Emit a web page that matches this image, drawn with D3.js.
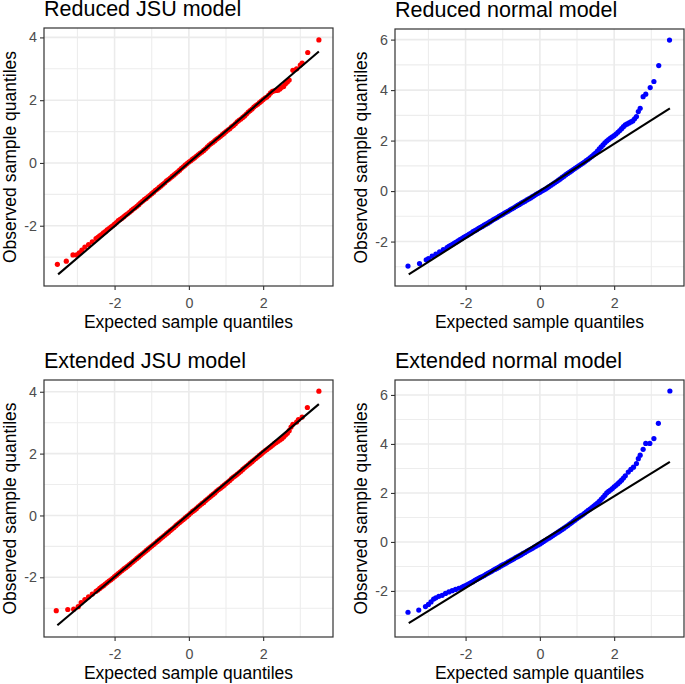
<!DOCTYPE html>
<html><head><meta charset="utf-8">
<script src="https://cdn.jsdelivr.net/npm/d3@7"></script>
<style>body{margin:0;background:#fff}svg{display:block}</style>
</head><body>
<svg id="c" width="685" height="684"></svg>
<script>
// ---------- data ----------
const panelTitles = ["Reduced JSU model","Reduced normal model","Extended JSU model","Extended normal model"];
const xTitle = "Expected sample quantiles";
const yTitle = "Observed sample quantiles";
const xTicks = [-2, 0, 2];
const xMinor = [-3, -1, 1, 3];
const yTicksJSU = [-2, 0, 2, 4];
const yMinorJSU = [-3, -1, 1, 3];
const yTicksNorm = [-2, 0, 2, 4, 6];
const yMinorNorm = [-3, -1, 1, 3, 5];

// [expected, observed]
const reducedJSU = [[-3.54,-3.23],[-3.30,-3.13],[-3.12,-2.93],[-3.02,-2.93],[-2.95,-2.86],[-2.88,-2.78],[-2.8,-2.68],[-2.7,-2.60],[-2.6,-2.51],[-2.5,-2.41],[-2.4,-2.32],[-2.3,-2.23],[-2.2,-2.13],[-2.1,-2.04],[-2.0,-1.95],[-1.9,-1.84],[-1.8,-1.76],[-1.7,-1.66],[-1.6,-1.57],[-1.5,-1.47],[-1.4,-1.38],[-1.3,-1.27],[-1.2,-1.17],[-1.1,-1.08],[-1.0,-0.98],[-0.9,-0.87],[-0.8,-0.78],[-0.7,-0.68],[-0.6,-0.57],[-0.5,-0.48],[-0.4,-0.38],[-0.3,-0.28],[-0.2,-0.17],[-0.1,-0.07],[0,0.03],[0.1,0.12],[0.2,0.21],[0.3,0.31],[0.4,0.40],[0.5,0.51],[0.6,0.62],[0.7,0.71],[0.8,0.80],[0.9,0.90],[1.0,1.00],[1.1,1.09],[1.2,1.19],[1.3,1.31],[1.4,1.40],[1.5,1.50],[1.6,1.62],[1.7,1.72],[1.8,1.83],[1.9,1.92],[2.0,2.02],[2.1,2.10],[2.2,2.23],[2.3,2.30],[2.4,2.32],[2.5,2.41],[2.55,2.44],[2.6,2.52],[2.65,2.58],[2.7,2.64],[2.8,2.95],[2.9,3.00],[3.0,3.12],[3.05,3.18],[3.2,3.52],[3.5,3.92],
  [-2.45,-2.37],[-2.35,-2.28],[-2.25,-2.19],[-2.15,-2.09],[-2.05,-2.00],[-1.95,-1.90],[-1.85,-1.80],[-1.75,-1.71],[-1.65,-1.62],[-1.55,-1.52],[-1.45,-1.43],[-1.35,-1.33],[-1.25,-1.22],[-1.15,-1.13],[-1.05,-1.03],[-0.95,-0.93],[-0.85,-0.83],[-0.75,-0.73],[-0.65,-0.63],[-0.55,-0.53],[-0.45,-0.43],[-0.35,-0.33],[-0.25,-0.23],[-0.15,-0.12],[-0.05,-0.02],[0.05,0.07],[0.15,0.16],[0.25,0.26],[0.35,0.35],[0.45,0.45],[0.55,0.57],[0.65,0.66],[0.75,0.76],[0.85,0.85],[0.95,0.95],[1.05,1.05],[1.15,1.15],[1.25,1.25],[1.35,1.36],[1.45,1.45],[1.55,1.56],[1.65,1.67],[1.75,1.78],[1.85,1.87],[1.95,1.97],[2.05,2.07],[2.15,2.16],[2.25,2.28],[2.35,2.31],[2.45,2.36]];
const reducedNormal = [[-3.55,-2.97],[-3.24,-2.87],[-3.06,-2.72],[-3.0,-2.67],[-2.9,-2.58],[-2.8,-2.50],[-2.7,-2.41],[-2.6,-2.32],[-2.5,-2.24],[-2.4,-2.15],[-2.3,-2.06],[-2.2,-1.97],[-2.1,-1.88],[-2.0,-1.79],[-1.9,-1.70],[-1.8,-1.61],[-1.7,-1.53],[-1.6,-1.44],[-1.5,-1.35],[-1.4,-1.27],[-1.3,-1.18],[-1.2,-1.09],[-1.1,-1.00],[-1.0,-0.92],[-0.9,-0.83],[-0.8,-0.74],[-0.7,-0.66],[-0.6,-0.57],[-0.5,-0.48],[-0.4,-0.40],[-0.3,-0.31],[-0.2,-0.22],[-0.1,-0.13],[0,-0.05],[0.1,0.04],[0.2,0.13],[0.3,0.23],[0.4,0.33],[0.5,0.43],[0.6,0.54],[0.7,0.65],[0.8,0.75],[0.9,0.85],[1.0,0.95],[1.1,1.05],[1.2,1.15],[1.3,1.26],[1.4,1.38],[1.5,1.50],[1.6,1.67],[1.7,1.83],[1.8,1.98],[1.9,2.10],[2.0,2.20],[2.1,2.33],[2.2,2.47],[2.3,2.62],[2.4,2.70],[2.5,2.78],[2.6,2.95],[2.65,3.15],[2.7,3.28],[2.78,3.74],[2.85,3.84],[2.97,4.10],[3.07,4.34],[3.2,4.97],[3.49,5.98],
  [-2.45,-2.19],[-2.35,-2.11],[-2.25,-2.02],[-2.15,-1.92],[-2.05,-1.83],[-1.95,-1.75],[-1.85,-1.66],[-1.75,-1.57],[-1.65,-1.48],[-1.55,-1.40],[-1.45,-1.31],[-1.35,-1.22],[-1.25,-1.13],[-1.15,-1.05],[-1.05,-0.96],[-0.95,-0.87],[-0.85,-0.79],[-0.75,-0.70],[-0.65,-0.61],[-0.55,-0.53],[-0.45,-0.44],[-0.35,-0.35],[-0.25,-0.27],[-0.15,-0.18],[-0.05,-0.09],[0.05,0.00],[0.15,0.08],[0.25,0.18],[0.35,0.28],[0.45,0.38],[0.55,0.48],[0.65,0.59],[0.75,0.70],[0.85,0.80],[0.95,0.90],[1.05,1.00],[1.15,1.10],[1.25,1.21],[1.35,1.32],[1.45,1.44],[1.55,1.58],[1.65,1.75],[1.75,1.91],[1.85,2.04],[1.95,2.15],[2.05,2.26],[2.15,2.40],[2.25,2.55],[2.35,2.66],[2.45,2.74],[2.55,2.86]];
const extendedJSU = [[-3.57,-3.08],[-3.26,-3.04],[-3.1,-3.03],[-2.98,-2.95],[-2.9,-2.82],[-2.8,-2.72],[-2.7,-2.63],[-2.6,-2.54],[-2.5,-2.45],[-2.4,-2.36],[-2.3,-2.27],[-2.2,-2.17],[-2.1,-2.08],[-2.0,-1.98],[-1.9,-1.88],[-1.8,-1.78],[-1.7,-1.69],[-1.6,-1.59],[-1.5,-1.49],[-1.4,-1.39],[-1.3,-1.29],[-1.2,-1.19],[-1.1,-1.09],[-1.0,-0.99],[-0.9,-0.89],[-0.8,-0.79],[-0.7,-0.69],[-0.6,-0.59],[-0.5,-0.49],[-0.4,-0.39],[-0.3,-0.28],[-0.2,-0.18],[-0.1,-0.08],[0,0.02],[0.1,0.13],[0.2,0.22],[0.3,0.33],[0.4,0.42],[0.5,0.53],[0.6,0.63],[0.7,0.73],[0.8,0.84],[0.9,0.93],[1.0,1.03],[1.1,1.13],[1.2,1.24],[1.3,1.33],[1.4,1.43],[1.5,1.54],[1.6,1.64],[1.7,1.74],[1.8,1.84],[1.9,1.94],[2.0,2.04],[2.1,2.13],[2.2,2.22],[2.3,2.32],[2.4,2.40],[2.5,2.48],[2.6,2.60],[2.7,2.74],[2.8,2.95],[2.9,3.02],[2.95,3.10],[3.05,3.18],[3.19,3.49],[3.5,4.02],
  [-2.45,-2.41],[-2.35,-2.31],[-2.25,-2.22],[-2.15,-2.12],[-2.05,-2.03],[-1.95,-1.93],[-1.85,-1.83],[-1.75,-1.73],[-1.65,-1.64],[-1.55,-1.54],[-1.45,-1.44],[-1.35,-1.34],[-1.25,-1.24],[-1.15,-1.14],[-1.05,-1.04],[-0.95,-0.94],[-0.85,-0.84],[-0.75,-0.74],[-0.65,-0.64],[-0.55,-0.54],[-0.45,-0.44],[-0.35,-0.33],[-0.25,-0.23],[-0.15,-0.13],[-0.05,-0.03],[0.05,0.08],[0.15,0.17],[0.25,0.28],[0.35,0.38],[0.45,0.48],[0.55,0.58],[0.65,0.68],[0.75,0.79],[0.85,0.88],[0.95,0.98],[1.05,1.08],[1.15,1.19],[1.25,1.28],[1.35,1.38],[1.45,1.49],[1.55,1.59],[1.65,1.69],[1.75,1.79],[1.85,1.89],[1.95,1.99],[2.05,2.09],[2.15,2.18],[2.25,2.27],[2.35,2.36],[2.45,2.44],[2.55,2.54],[2.65,2.66],[2.75,2.86]];
const extendedNormal = [[-3.55,-2.87],[-3.26,-2.78],[-3.08,-2.64],[-3.0,-2.55],[-2.93,-2.45],[-2.86,-2.33],[-2.8,-2.28],[-2.72,-2.22],[-2.63,-2.18],[-2.54,-2.10],[-2.45,-2.04],[-2.36,-1.99],[-2.27,-1.94],[-2.18,-1.89],[-2.1,-1.85],[-2.0,-1.78],[-1.9,-1.70],[-1.8,-1.62],[-1.7,-1.53],[-1.6,-1.45],[-1.5,-1.37],[-1.4,-1.28],[-1.3,-1.20],[-1.2,-1.11],[-1.1,-1.03],[-1.0,-0.94],[-0.9,-0.86],[-0.8,-0.77],[-0.7,-0.69],[-0.6,-0.60],[-0.5,-0.52],[-0.4,-0.43],[-0.3,-0.34],[-0.2,-0.26],[-0.1,-0.17],[0,-0.08],[0.1,0.02],[0.2,0.12],[0.3,0.21],[0.4,0.31],[0.5,0.41],[0.6,0.51],[0.7,0.62],[0.8,0.73],[0.9,0.84],[1.0,0.96],[1.1,1.06],[1.2,1.17],[1.3,1.29],[1.4,1.40],[1.5,1.52],[1.6,1.66],[1.7,1.82],[1.8,2.00],[1.9,2.12],[2.0,2.25],[2.1,2.38],[2.2,2.52],[2.3,2.70],[2.38,2.85],[2.45,2.96],[2.52,3.05],[2.6,3.20],[2.65,3.40],[2.7,3.54],[2.78,3.78],[2.85,4.02],[2.96,4.02],[3.07,4.22],[3.19,4.84],[3.5,6.16],
  [-2.05,-1.81],[-1.95,-1.74],[-1.85,-1.66],[-1.75,-1.57],[-1.65,-1.49],[-1.55,-1.41],[-1.45,-1.32],[-1.35,-1.24],[-1.25,-1.15],[-1.15,-1.07],[-1.05,-0.98],[-0.95,-0.90],[-0.85,-0.81],[-0.75,-0.73],[-0.65,-0.64],[-0.55,-0.56],[-0.45,-0.47],[-0.35,-0.38],[-0.25,-0.30],[-0.15,-0.21],[-0.05,-0.12],[0.05,-0.03],[0.15,0.07],[0.25,0.16],[0.35,0.26],[0.45,0.36],[0.55,0.46],[0.65,0.56],[0.75,0.67],[0.85,0.78],[0.95,0.90],[1.05,1.01],[1.15,1.11],[1.25,1.23],[1.35,1.34],[1.45,1.46],[1.55,1.59],[1.65,1.74],[1.75,1.91],[1.85,2.06],[1.95,2.18],[2.05,2.31],[2.15,2.45],[2.25,2.61]];

// reference lines: [expected, fitted]
const lineReducedJSU = [[-3.52,-3.55],[3.50,3.55]];
const lineReducedNormal = [[-3.53,-3.30],[3.50,3.28]];
const lineExtendedJSU = [[-3.54,-3.55],[3.50,3.60]];
const lineExtendedNormal = [[-3.53,-3.31],[3.50,3.27]];

const pointColors = ["#FF0000","#0000FF","#FF0000","#0000FF"];

// ---------- drawing ----------
const svg = d3.select("#c");
svg.append("rect").attr("width",685).attr("height",684).attr("fill","#fff");
const FONT = "'Liberation Sans', Arial, Helvetica, sans-serif";

const panels = [
  {box:{l:44, t:28, w:289, h:258}, yd:[-3.92,4.30], yt:yTicksJSU, ym:yMinorJSU, pts:reducedJSU, ln:lineReducedJSU},
  {box:{l:395, t:29, w:289, h:257}, yd:[-3.76,6.42], yt:yTicksNorm, ym:yMinorNorm, pts:reducedNormal, ln:lineReducedNormal},
  {box:{l:44, t:380, w:289, h:257}, yd:[-3.93,4.38], yt:yTicksJSU, ym:yMinorJSU, pts:extendedJSU, ln:lineExtendedJSU},
  {box:{l:395, t:380, w:289, h:257}, yd:[-3.88,6.61], yt:yTicksNorm, ym:yMinorNorm, pts:extendedNormal, ln:lineExtendedNormal}
];

panels.forEach((p, i) => {
  const b = p.box;
  const x = d3.scaleLinear().domain([-3.9, 3.88]).range([b.l, b.l + b.w]);
  const y = d3.scaleLinear().domain(p.yd).range([b.t + b.h, b.t]);
  const g = svg.append("g");

  // grid
  const grid = g.append("g");
  xMinor.forEach(v => grid.append("line").attr("x1",x(v)).attr("x2",x(v)).attr("y1",b.t).attr("y2",b.t+b.h).attr("stroke","#EDEDED").attr("stroke-width",1.1));
  p.ym.forEach(v => grid.append("line").attr("y1",y(v)).attr("y2",y(v)).attr("x1",b.l).attr("x2",b.l+b.w).attr("stroke","#EDEDED").attr("stroke-width",1.1));
  xTicks.forEach(v => grid.append("line").attr("x1",x(v)).attr("x2",x(v)).attr("y1",b.t).attr("y2",b.t+b.h).attr("stroke","#EBEBEB").attr("stroke-width",1.6));
  p.yt.forEach(v => grid.append("line").attr("y1",y(v)).attr("y2",y(v)).attr("x1",b.l).attr("x2",b.l+b.w).attr("stroke","#EBEBEB").attr("stroke-width",1.6));

  // points
  g.append("g").selectAll("circle").data(p.pts).join("circle")
    .attr("cx", d => x(d[0])).attr("cy", d => y(d[1])).attr("r", 2.6)
    .attr("fill", pointColors[i]);

  // reference line
  g.append("path").datum(p.ln)
    .attr("d", d3.line().x(d => x(d[0])).y(d => y(d[1])))
    .attr("stroke","#000").attr("stroke-width",2.1).attr("fill","none");

  // border
  g.append("rect").attr("x",b.l).attr("y",b.t).attr("width",b.w).attr("height",b.h)
    .attr("fill","none").attr("stroke","#333333").attr("stroke-width",1.2);

  // axes
  const xa = g.append("g").attr("transform",`translate(0,${b.t+b.h})`)
    .call(d3.axisBottom(x).tickValues(xTicks).tickSize(4).tickPadding(4).tickFormat(d3.format("d")));
  const ya = g.append("g").attr("transform",`translate(${b.l},0)`)
    .call(d3.axisLeft(y).tickValues(p.yt).tickSize(4).tickPadding(3).tickFormat(d3.format("d")));
  [xa, ya].forEach(a => {
    a.select(".domain").remove();
    a.selectAll(".tick line").attr("stroke","#333333").attr("stroke-width",1.1);
    a.selectAll(".tick text").attr("fill","#4D4D4D").style("font-family",FONT).style("font-size","14.3px");
  });
  xa.selectAll(".tick text").text(d => String(d)).attr("dy","0.95em");
  ya.selectAll(".tick text").text(d => String(d));

  // titles
  g.append("text").attr("x", b.l).attr("y", b.t - 12.5)
    .style("font-family",FONT).style("font-size","21.5px").attr("fill","#000")
    .text(panelTitles[i]);
  g.append("text").attr("x", b.l + b.w/2).attr("y", b.t + b.h + 41.5)
    .attr("text-anchor","middle").style("font-family",FONT).style("font-size","17.5px").attr("fill","#000")
    .text(xTitle);
  g.append("text").attr("transform",`translate(${b.l - 28},${b.t + b.h/2}) rotate(-90)`)
    .attr("text-anchor","middle").style("font-family",FONT).style("font-size","17.5px").attr("fill","#000")
    .text(yTitle);
});
</script>
</body></html>
